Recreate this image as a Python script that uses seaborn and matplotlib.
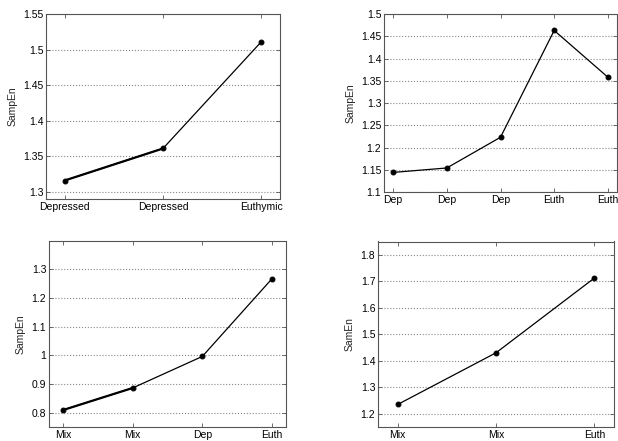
import seaborn as sns
import matplotlib.pyplot as plt
from matplotlib.ticker import FuncFormatter

# panel data
p1_labels = ["Depressed", "Depressed", "Euthymic"]
p1_vals = [1.316, 1.361, 1.511]

p2_labels = ["Dep", "Dep", "Dep", "Euth", "Euth"]
p2_vals = [1.144, 1.154, 1.223, 1.463, 1.358]

p3_labels = ["Mix", "Mix", "Dep", "Euth"]
p3_vals = [0.809, 0.886, 0.996, 1.267]

p4_labels = ["Mix", "Mix", "Euth"]
p4_vals = [1.235, 1.430, 1.712]


def draw_panel(ax, labels, vals, ylabel, xlim, ylim, yticks, heavy_first=False):
    pos = list(range(1, len(vals) + 1))
    sns.lineplot(x=pos, y=vals, ax=ax, color="black", linewidth=0.9,
                 marker="o", markersize=3.5, markeredgecolor="black")
    if heavy_first:
        # first segment drawn heavier, as in the original
        sns.lineplot(x=pos[:2], y=vals[:2], ax=ax, color="black", linewidth=1.6)
    ax.set_xlim(*xlim)
    ax.set_ylim(*ylim)
    ax.set_xticks(pos)
    ax.set_xticklabels(labels)
    ax.set_yticks(yticks)
    ax.yaxis.set_major_formatter(FuncFormatter(lambda v, p: "{:g}".format(round(v, 3))))
    ax.set_ylabel(ylabel, fontsize=7.5)
    ax.set_xlabel("")
    ax.grid(False)
    ax.yaxis.grid(True, linestyle=":", color="#888888", linewidth=0.8)
    ax.tick_params(direction="in", bottom=True, left=True, top=True, right=True,
                   length=3, width=0.6, labelsize=7.5, colors="#555555",
                   labelcolor="black", pad=2)
    for s in ax.spines.values():
        s.set_color("#555555")
        s.set_linewidth(0.8)


sns.set_style("white")
plt.rcParams["font.family"] = ["Liberation Sans", "DejaVu Sans"]

fig = plt.figure(figsize=(6.18, 4.41), dpi=100)

ax1 = fig.add_axes([46 / 618, 242 / 441, 234 / 618, 185 / 441])
draw_panel(ax1, p1_labels, p1_vals, "SampEn", (0.81, 3.19), (1.29, 1.55),
           [1.3, 1.35, 1.4, 1.45, 1.5, 1.55], heavy_first=True)

ax2 = fig.add_axes([384 / 618, 249 / 441, 233 / 618, 178 / 441])
draw_panel(ax2, p2_labels, p2_vals, "SampEn", (0.83, 5.17), (1.1, 1.5),
           [1.1, 1.15, 1.2, 1.25, 1.3, 1.35, 1.4, 1.45, 1.5])

ax3 = fig.add_axes([49 / 618, 14 / 441, 237 / 618, 186.5 / 441])
draw_panel(ax3, p3_labels, p3_vals, "SampEn", (0.8, 4.2), (0.75, 1.4),
           [0.8, 0.9, 1.0, 1.1, 1.2, 1.3], heavy_first=True)

ax4 = fig.add_axes([378 / 618, 14 / 441, 236 / 618, 185.5 / 441])
draw_panel(ax4, p4_labels, p4_vals, "SamEn", (0.8, 3.2), (1.15, 1.85),
           [1.2, 1.3, 1.4, 1.5, 1.6, 1.7, 1.8])

fig.savefig("out.png", dpi=100, facecolor="white")
